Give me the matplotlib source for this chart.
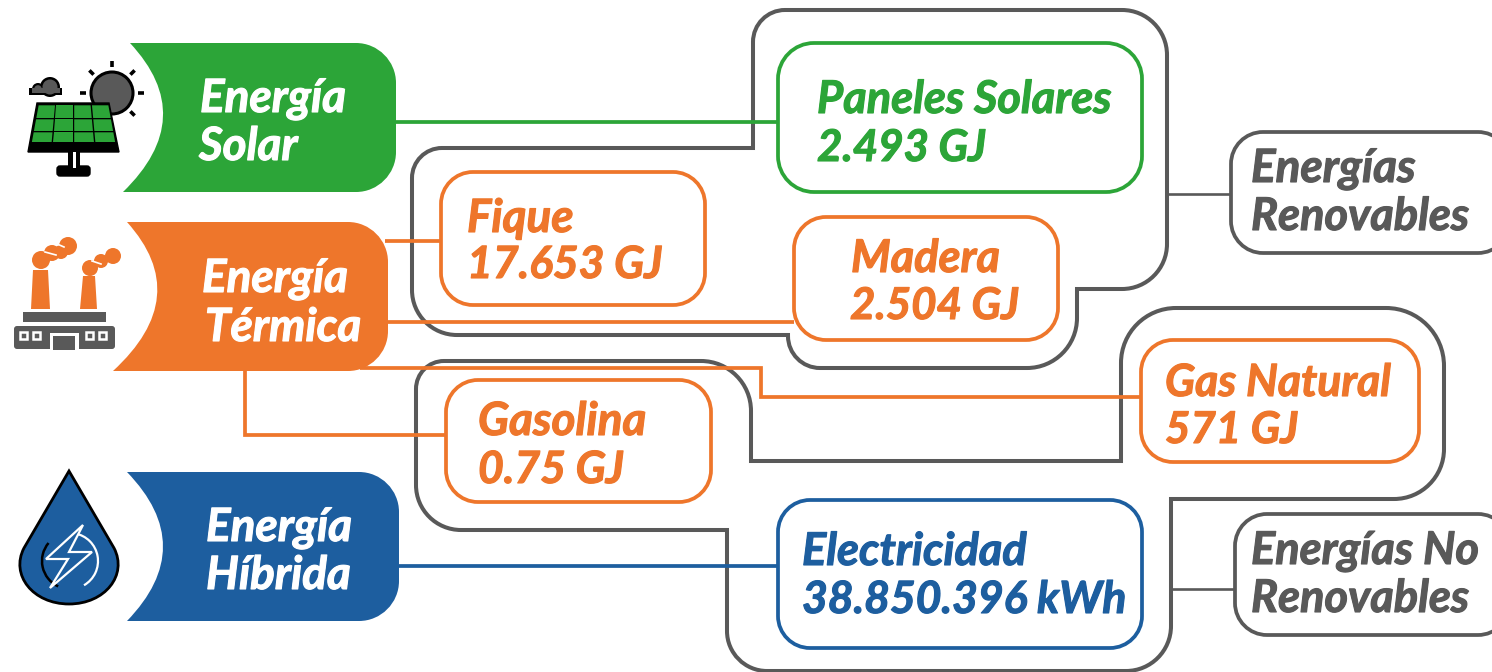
import numpy as np
import matplotlib
matplotlib.use("Agg")
import matplotlib.pyplot as plt
import matplotlib.patheffects as pe
from matplotlib.path import Path
from matplotlib.patches import PathPatch, Polygon, Circle, Arc, Rectangle, FancyBboxPatch

# labels
source_line1 = ["Energía", "Energía", "Energía"]
source_line2 = ["Solar", "Térmica", "Híbrida"]
item_names = ["Paneles Solares", "Fique", "Madera", "Gas Natural", "Gasolina", "Electricidad"]
item_values = ["2.493 GJ", "17.653 GJ", "2.504 GJ", "571 GJ", "0.75 GJ", "38.850.396 kWh"]
group_line1 = ["Energías", "Energías No"]
group_line2 = ["Renovables", "Renovables"]

GREEN = "#2CA538"
ORANGE = "#EE762B"
BLUE = "#1D5E9F"
GRAY = "#595959"
FONT = "Lato"

fig = plt.figure(figsize=(14.92, 6.72), dpi=100)
ax = fig.add_axes([0, 0, 1, 1])
ax.set_xlim(0, 1492)
ax.set_ylim(672, 0)
ax.axis("off")


# closed or open outline with round corners, pts are (x, y, radius)
def round_path(pts, closed=True):
    k = 0.5523
    verts, codes = [], []
    n = len(pts)
    for i, (x, y, r) in enumerate(pts):
        p = np.array([x, y], float)
        if r == 0 or (not closed and i in (0, n - 1)):
            verts.append(p)
            codes.append(Path.MOVETO if i == 0 else Path.LINETO)
            continue
        a = np.array(pts[i - 1][:2], float)
        b = np.array(pts[(i + 1) % n][:2], float)
        ua = (a - p) / np.linalg.norm(a - p)
        ub = (b - p) / np.linalg.norm(b - p)
        s, e = p + ua * r, p + ub * r
        verts.append(s)
        codes.append(Path.MOVETO if i == 0 else Path.LINETO)
        verts += [s - ua * r * k, e - ub * r * k, e]
        codes += [Path.CURVE4] * 3
    if closed:
        verts.append(verts[0])
        codes.append(Path.CLOSEPOLY)
    return Path(verts, codes)


def outline(pts, color, lw, closed=True, z=2):
    ax.add_patch(PathPatch(round_path(pts, closed), fc="none", ec=color, lw=lw, zorder=z,
                           joinstyle="miter"))


def box(x0, y0, x1, y1, r, color, lw=2.7):
    pts = [(x0, y0, r), (x1, y0, r), (x1, y1, r), (x0, y1, r)]
    ax.add_patch(PathPatch(round_path(pts), fc="white", ec=color, lw=lw, zorder=4))


def ribbon(xt, xb, xr, y0, y1, bulge, r, color):
    ym = (y0 + y1) / 2
    cx = 2 * (bulge - 0.25 * xt - 0.25 * xb)
    v = [(xt, y0), (xr - r, y0), (xr - r * 0.45, y0), (xr, y0 + r * 0.45), (xr, y0 + r),
         (xr, y1 - r), (xr, y1 - r * 0.45), (xr - r * 0.45, y1), (xr - r, y1),
         (xb, y1), (cx, ym), (xt, y0), (xt, y0)]
    c = [Path.MOVETO, Path.LINETO, Path.CURVE4, Path.CURVE4, Path.CURVE4,
         Path.LINETO, Path.CURVE4, Path.CURVE4, Path.CURVE4,
         Path.LINETO, Path.CURVE3, Path.CURVE3, Path.CLOSEPOLY]
    ax.add_patch(PathPatch(Path(v, c), fc=color, ec="none", zorder=5))


def label(x, y, s, color, size=33):
    t = ax.text(x, y, s, color=color, fontsize=size, family=FONT, weight="bold", style="italic",
                ha="left", va="baseline", zorder=6)
    t.set_path_effects([pe.withStroke(linewidth=0.8, foreground=color)])


def line(xs, ys, color, lw=2.7, z=3):
    ax.plot(xs, ys, color=color, lw=lw, zorder=z, solid_joinstyle="miter", solid_capstyle="butt")


# gray group outlines
outline([(753, 148, 0), (753, 10, 32), (1167, 10, 45), (1167, 289, 45), (1077, 289, 0),
         (1077, 368, 50), (788, 368, 32), (788, 335, 0), (412, 335, 45), (412, 148, 30)],
        GRAY, 2.9)
outline([(416, 361, 28), (751, 361, 50), (751, 461, 0), (1121, 461, 0), (1121, 308, 55),
         (1444, 308, 58), (1444, 499, 50), (1171, 499, 0), (1171, 671, 45), (727, 671, 40),
         (727, 530, 0), (416, 530, 45)], GRAY, 2.9)

# connectors
line([396, 778], [122, 122], GREEN)
line([385, 441], [241, 241], ORANGE)
line([385, 794], [322, 322], ORANGE)
line([360, 761, 761, 1141], [368, 368, 397, 397], ORANGE)
line([245, 245, 446], [368, 435, 435], ORANGE)
line([399, 778], [566, 566], BLUE)
line([1168, 1231], [194, 194], GRAY, 1.9)
line([1171, 1235], [589, 589], GRAY, 1.9)

# boxes
box(778, 43, 1142, 192, 36, GREEN)
box(441, 172, 705, 305, 32, ORANGE)
box(794, 217, 1058, 340, 32, ORANGE)
box(1141, 340, 1419, 462, 32, ORANGE)
box(446, 380, 711, 502, 32, ORANGE)
box(778, 500, 1142, 648, 32, BLUE)
box(1231, 132, 1510, 253, 32, GRAY)
box(1235, 514, 1510, 635, 32, GRAY)

# ribbons
ribbon(130, 123, 396, 43, 192, 163, 40, GREEN)
ribbon(127, 113, 388, 222, 371, 157, 40, ORANGE)
ribbon(127, 127, 399, 472, 621, 163, 40, BLUE)

# texts
src_x = [(200, 199), (202, 205), (206, 206)]
src_y = [(112, 160), (292, 341), (541, 589)]
for i in range(3):
    label(src_x[i][0], src_y[i][0], source_line1[i], "white", 33)
    label(src_x[i][1], src_y[i][1], source_line2[i], "white", 33)

item_x = [(817, 817), (467, 467), (851, 850), (1165, 1165), (478, 478), (802, 802)]
item_y = [(113, 161), (232, 278), (272, 319), (396, 443), (435, 483), (565, 613)]
item_c = [GREEN, ORANGE, ORANGE, ORANGE, ORANGE, BLUE]
name_size = [32.5, 33, 32.5, 32, 33, 32.5]
value_size = [31.5, 32, 31.5, 31.5, 32, 32]
for i in range(6):
    label(item_x[i][0], item_y[i][0], item_names[i], item_c[i], name_size[i])
    label(item_x[i][1], item_y[i][1], item_values[i], item_c[i], value_size[i])

label(1251, 182, group_line1[0], GRAY)
label(1251, 230, group_line2[0], GRAY, 32.5)
label(1251, 564, group_line1[1], GRAY, 32.5)
label(1251, 612, group_line2[1], GRAY, 32.5)

# solar icon
ax.add_patch(Circle((112, 93), 21, fc=GRAY, ec="black", lw=2.2, zorder=5))
for a in [-90, -45, -135, 0, 180, 45]:
    t = np.radians(a)
    ax.plot([112 + 26 * np.cos(t), 112 + 32 * np.cos(t)], [93 + 26 * np.sin(t), 93 + 32 * np.sin(t)],
            color="black", lw=2.6, zorder=5, solid_capstyle="butt")
ax.add_patch(Polygon([(37, 103), (109, 103), (119, 152), (28, 152)], fc="black", ec="black", lw=1, zorder=6))
top_l, top_r, bot_l, bot_r = 38, 109, 31, 116
rows = [105, 119, 132, 143]
for r in range(3):
    for c in range(4):
        y0, y1 = rows[r] + 0.3, rows[r + 1] - 1.0
        xl0 = top_l + (bot_l - top_l) * (y0 - 105) / 38
        xr0 = top_r + (bot_r - top_r) * (y0 - 105) / 38
        xl1 = top_l + (bot_l - top_l) * (y1 - 105) / 38
        xr1 = top_r + (bot_r - top_r) * (y1 - 105) / 38
        w0, w1 = (xr0 - xl0) / 4, (xr1 - xl1) / 4
        ax.add_patch(Polygon([(xl0 + c * w0 + 0.7, y0), (xl0 + (c + 1) * w0 - 0.7, y0),
                              (xl1 + (c + 1) * w1 - 0.7, y1), (xl1 + c * w1 + 0.7, y1)],
                             fc=GREEN, ec="none", zorder=7))
ax.add_patch(Rectangle((68, 152), 12, 16, fc="black", zorder=6))
ax.add_patch(Rectangle((73, 152), 2.5, 16, fc="white", zorder=7))
ax.add_patch(FancyBboxPatch((57, 166), 33, 10, boxstyle="round,pad=0,rounding_size=3", fc="black", ec="black", zorder=6))
# cloud, black shape first then gray on top
for cx, cy, r in [(50, 87, 10), (38, 89, 6)]:
    ax.add_patch(Circle((cx, cy), r, fc="black", zorder=5))
ax.add_patch(Rectangle((29, 88), 33, 7, fc="black", zorder=5))
for cx, cy, r in [(50, 87, 7.5), (38, 89, 3.8)]:
    ax.add_patch(Circle((cx, cy), r, fc=GRAY, zorder=5))
ax.add_patch(Rectangle((32, 88), 28, 4.5, fc=GRAY, zorder=5))

# factory icon
ax.add_patch(Polygon([(33, 270), (48, 270), (50, 309), (31, 309)], fc=ORANGE, zorder=5))
ax.add_patch(Polygon([(83, 276), (95, 276), (97, 309), (80, 309)], fc=ORANGE, zorder=5))
for cx, cy, r in [(41, 260, 9), (52, 253, 8), (61, 252, 7), (68, 246, 9),
                  (90, 268, 8), (101, 261, 7), (113, 256, 8)]:
    ax.add_patch(Circle((cx, cy), r, fc=ORANGE, zorder=5))
ax.plot([45, 56], [252, 255], color="white", lw=1.2, zorder=6)
ax.plot([55, 64], [243, 247], color="white", lw=1.2, zorder=6)
ax.plot([92, 101], [261, 264], color="white", lw=1.2, zorder=6)
ax.add_patch(Rectangle((23, 312), 83, 10, fc=GRAY, zorder=5))
ax.add_patch(FancyBboxPatch((14, 326), 101, 23, boxstyle="round,pad=0,rounding_size=3", fc=GRAY, ec="none", zorder=5))
ax.add_patch(Rectangle((50, 333), 29, 17, fc="white", zorder=6))
ax.add_patch(Rectangle((53, 336), 22, 14, fc=GRAY, zorder=7))
for x in [20, 33, 86, 99]:
    ax.add_patch(Rectangle((x, 332), 7, 7, fc=GRAY, ec="white", lw=1.8, zorder=6))

# drop icon
drop_v = [(69, 471), (114, 548), (128, 575), (105, 604), (69, 604), (33, 604), (10, 575), (24, 548), (69, 471), (69, 471)]
drop_c = [Path.MOVETO, Path.LINETO, Path.CURVE4, Path.CURVE4, Path.CURVE4, Path.CURVE4, Path.CURVE4, Path.CURVE4, Path.LINETO, Path.CLOSEPOLY]
ax.add_patch(PathPatch(Path(drop_v, drop_c), fc=BLUE, ec="black", lw=2, zorder=5))
ax.add_patch(Arc((70, 561), 56, 56, theta1=-80, theta2=60, ec="white", lw=1.6, zorder=6))
ax.add_patch(Arc((70, 561), 56, 56, theta1=115, theta2=220, ec="black", lw=1.8, zorder=6))
ax.add_patch(Polygon([(83, 525), (46, 559), (68, 559), (50, 588), (92, 552), (69, 552)],
                     fc=BLUE, ec="white", lw=1.6, zorder=7))

fig.savefig("out.png", dpi=100, facecolor="white")
